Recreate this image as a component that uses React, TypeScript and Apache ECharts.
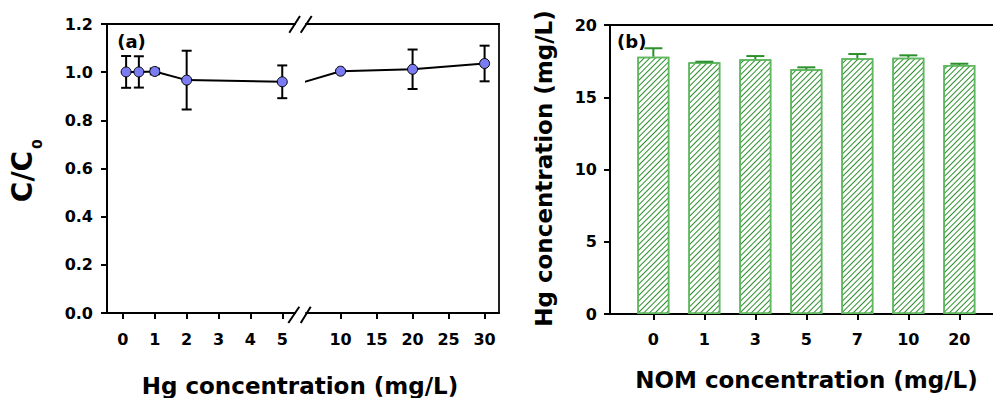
import React, { useEffect, useRef } from 'react';
import * as echarts from 'echarts';

// ---- data (a): relative concentration vs Hg concentration ----
const hgConc = [0.1, 0.5, 1, 2, 5, 10, 20, 30];
const ratio = [1.001, 1.001, 1.003, 0.967, 0.96, 1.004, 1.012, 1.036];
const ratioErr = [0.066, 0.065, 0.012, 0.122, 0.068, 0.004, 0.082, 0.074];
const lowTicks = [0, 1, 2, 3, 4, 5];
const highTicks = [10, 15, 20, 25, 30];

// ---- data (b): Hg concentration vs NOM concentration ----
const nomCats = ['0', '1', '3', '5', '7', '10', '20'];
const hgRemain = [17.81, 17.42, 17.63, 16.93, 17.7, 17.74, 17.23];
const hgErr = [0.58, 0.04, 0.22, 0.14, 0.29, 0.16, 0.09];

const FONT = '"DejaVu Sans", Arial, sans-serif';
const GREEN = '#2b8f2b';

export default function App() {
  const ref = useRef<HTMLDivElement>(null);
  useEffect(() => {
    if (!ref.current) return;
    const chart = echarts.init(ref.current, undefined, { renderer: 'svg' });

    const low = hgConc.map((x, i) => [x, ratio[i], ratioErr[i]]).filter((d) => d[0] <= 5);
    const high = hgConc.map((x, i) => [x, ratio[i], ratioErr[i]]).filter((d) => d[0] > 5);
    const bridge = hgConc
      .map((x, i) => [x, ratio[i]])
      .filter((d) => d[0] >= 5)
      .map((d) => (d[0] === 5 ? { value: d, symbol: 'none' } : { value: d }));
    const bars = hgRemain.map((v, i) => [i, v, hgErr[i]]);

    const errRender = (capHalf: number, upperOnly: boolean, color: string) => (params: any, api: any) => {
      const x = api.value(0);
      const y = api.value(1);
      const e = api.value(2);
      const top = api.coord([x, y + e]);
      const bot = api.coord([x, upperOnly ? y : y - e]);
      const st = { stroke: color, lineWidth: 2 };
      const children: any[] = [
        { type: 'line', shape: { x1: top[0], y1: top[1], x2: bot[0], y2: bot[1] }, style: st },
        { type: 'line', shape: { x1: top[0] - capHalf, y1: top[1], x2: top[0] + capHalf, y2: top[1] }, style: st },
      ];
      if (!upperOnly)
        children.push({ type: 'line', shape: { x1: bot[0] - capHalf, y1: bot[1], x2: bot[0] + capHalf, y2: bot[1] }, style: st });
      return { type: 'group', children };
    };

    const axisLabel = { color: '#000', fontFamily: FONT, fontWeight: 'bold', fontSize: 16 };
    const axisLine = { show: true, onZero: false, lineStyle: { color: '#000', width: 2 } };
    const axisTick = { show: true, inside: false, length: 6, lineStyle: { color: '#000', width: 2 } };
    const frameAxis = (grid: number) => ({
      type: 'value',
      gridIndex: grid,
      position: 'top',
      axisLine: axisLine,
      axisTick: { show: false },
      axisLabel: { show: false },
      splitLine: { show: false },
    });

    const txt = (text: string, x: number, y: number, size: number, rot = 0) => ({
      type: 'text',
      x,
      y,
      rotation: rot,
      silent: true,
      style: {
        text,
        font: `bold ${size}px ${FONT}`,
        fill: '#000',
        align: 'center',
        verticalAlign: 'middle',
        textAlign: 'center',
        textVerticalAlign: 'middle',
      },
    });
    const seg = (x1: number, y1: number, x2: number, y2: number) => ({
      type: 'line',
      silent: true,
      shape: { x1, y1, x2, y2 },
      style: { stroke: '#000', lineWidth: 2 },
    });

    chart.setOption({
      animation: false,
      backgroundColor: '#fff',
      grid: [
        { left: 107, top: 24, width: 188, height: 289 },
        { left: 306, top: 24, width: 193, height: 289 },
        { left: 610, top: 25, right: 0, height: 289 },
      ],
      xAxis: [
        {
          type: 'value', gridIndex: 0, min: -0.5, max: 5.4, position: 'bottom',
          axisLine, splitLine: { show: false },
          axisTick: { ...axisTick, customValues: lowTicks },
          axisLabel: { ...axisLabel, margin: 18, customValues: lowTicks },
        },
        {
          type: 'value', gridIndex: 1, min: 5.2, max: 32, position: 'bottom',
          axisLine, splitLine: { show: false },
          axisTick: { ...axisTick, customValues: highTicks },
          axisLabel: { ...axisLabel, margin: 18, customValues: highTicks },
        },
        {
          type: 'value', gridIndex: 2, min: -0.85, max: 6.66, position: 'bottom',
          axisLine, splitLine: { show: false },
          axisTick: { ...axisTick, customValues: nomCats.map((_, i) => i) },
          axisLabel: {
            ...axisLabel, margin: 17,
            customValues: nomCats.map((_, i) => i),
            formatter: (v: number) => nomCats[Math.round(v)] ?? '',
          },
        },
        frameAxis(0),
        frameAxis(1),
        frameAxis(2),
      ],
      yAxis: [
        {
          type: 'value', gridIndex: 0, min: 0, max: 1.2, interval: 0.2, position: 'left',
          axisLine, axisTick, splitLine: { show: false },
          axisLabel: { ...axisLabel, margin: 14, formatter: (v: number) => v.toFixed(1) },
        },
        {
          type: 'value', gridIndex: 1, min: 0, max: 1.2, position: 'right',
          axisLine: { show: true, onZero: false, lineStyle: { color: '#222', width: 2 } },
          axisTick: { show: false }, axisLabel: { show: false }, splitLine: { show: false },
        },
        {
          type: 'value', gridIndex: 2, min: 0, max: 20, interval: 5, position: 'left',
          axisLine, axisTick, splitLine: { show: false },
          axisLabel: { ...axisLabel, margin: 13 },
        },
      ],
      series: [
        {
          type: 'custom', xAxisIndex: 0, yAxisIndex: 0, z: 1,
          renderItem: errRender(5, false, '#000'), data: low,
        },
        {
          type: 'line', xAxisIndex: 0, yAxisIndex: 0, z: 3,
          data: low.map((d) => [d[0], d[1]]),
          symbol: 'circle', symbolSize: 10, showAllSymbol: true,
          lineStyle: { color: '#000', width: 2 },
          itemStyle: { color: '#7b7bf2', borderColor: '#000', borderWidth: 1 },
        },
        {
          type: 'custom', xAxisIndex: 1, yAxisIndex: 1, z: 1,
          renderItem: errRender(5, false, '#000'), data: high,
        },
        {
          type: 'line', xAxisIndex: 1, yAxisIndex: 1, z: 3, clip: true,
          data: bridge,
          symbol: 'circle', symbolSize: 10, showAllSymbol: true,
          lineStyle: { color: '#000', width: 2 },
          itemStyle: { color: '#7b7bf2', borderColor: '#000', borderWidth: 1 },
        },
        {
          type: 'bar', xAxisIndex: 2, yAxisIndex: 2, z: 2,
          data: bars.map((d) => [d[0], d[1]]),
          barWidth: 32,
          itemStyle: {
            color: '#ffffff',
            borderColor: '#5fb85f',
            borderWidth: 1.5,
            decal: {
              symbol: 'rect',
              symbolSize: 1,
              color: GREEN,
              dashArrayX: [1, 0],
              dashArrayY: [1, 2.2],
              rotation: -Math.PI / 4,
            },
          },
        },
        {
          type: 'custom', xAxisIndex: 2, yAxisIndex: 2, z: 3,
          renderItem: errRender(9, true, GREEN), data: bars,
        },
      ],
      graphic: [
        txt('C/C', 22.5, 176.5, 28, Math.PI / 2),
        txt('0', 37, 144, 14, Math.PI / 2),
        txt('Hg concentration (mg/L)', 300, 386, 23),
        txt('NOM concentration (mg/L)', 806.5, 380, 23),
        txt('Hg concentration (mg/L)', 544, 168.5, 23, Math.PI / 2),
        txt('(a)', 131.5, 41.5, 18),
        txt('(b)', 631.7, 41.5, 18),
        seg(289.3, 32.7, 300, 16),
        seg(300.7, 32.7, 311.7, 16),
        seg(288.3, 323, 299.3, 306.7),
        seg(300.7, 323, 310.7, 306.7),
      ],
    });
    return () => chart.dispose();
  }, []);
  return <div ref={ref} style={{ width: 993, height: 398, position: 'absolute', left: 0, top: 0 }} />;
}
